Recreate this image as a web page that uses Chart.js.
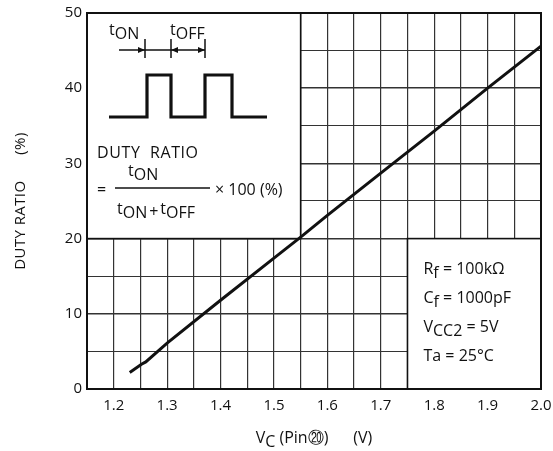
<!DOCTYPE html>
<html>
<head>
<meta charset="utf-8">
<script src="https://cdn.jsdelivr.net/npm/chart.js@4"></script>
<style>
html,body{margin:0;padding:0;background:#fff;}
#wrap{width:553px;height:451px;position:relative;}
</style>
</head>
<body>
<div id="wrap"><canvas id="chart" width="553" height="451"></canvas></div>
<script>

// ================= DATA =================

const vc = [1.23, 1.252, 1.26, 1.3, 1.4, 1.5, 1.55, 1.6, 1.7, 1.8, 1.9, 2.0];
const duty = [2.2, 3.3, 3.6, 6.1, 11.8, 17.4, 20.2, 23.1, 28.7, 34.3, 40.0, 45.6];

const xTickLabels = ["1.2","1.3","1.4","1.5","1.6","1.7","1.8","1.9","2.0"];
const yTickLabels = ["0","10","20","30","40","50"];

const conditions = [
  ["R","f"," = 100k\u03A9"],
  ["C","f"," = 1000pF"],
  ["V","CC2"," = 5V"],
  ["Ta","",  " = 25\u00B0C"]
];

const FONT = "'Open Sans', 'DejaVu Sans', sans-serif";
const INK = "#111";

// ================= HELPERS =================

function subText(ctx, x, y, parts, size){
  // parts: [[text, dy], ...] drawn left to right
  ctx.font = size + "px " + FONT;
  parts.forEach(p=>{
    ctx.fillText(p[0], x, y + p[1]);
    x += ctx.measureText(p[0]).width;
  });
  return x;
}

function textWidth(ctx, parts, size){
  ctx.font = size + "px " + FONT;
  return parts.reduce((w,p)=>w+ctx.measureText(p[0]).width,0);
}

function arrowHead(ctx, x, y, dir){
  ctx.beginPath();
  ctx.moveTo(x, y);
  ctx.lineTo(x - dir*7, y - 3);
  ctx.lineTo(x - dir*7, y + 3);
  ctx.closePath();
  ctx.fill();
}

// ================= INSET BOXES =================

const insetPlugin = {
  id: "insets",
  beforeDatasetsDraw(chart){
    const ctx = chart.ctx;
    const xs = chart.scales.x, ys = chart.scales.y;

    const boxes = [
      [xs.getPixelForValue(1.15), ys.getPixelForValue(50), xs.getPixelForValue(1.55), ys.getPixelForValue(20)],
      [xs.getPixelForValue(1.75), ys.getPixelForValue(20), xs.getPixelForValue(2.0), ys.getPixelForValue(0)]
    ];

    ctx.save();
    boxes.forEach(b=>{
      ctx.fillStyle = "#fff";
      ctx.fillRect(b[0], b[1], b[2]-b[0], b[3]-b[1]);
      ctx.strokeStyle = INK;
      ctx.lineWidth = 1.6;
      ctx.strokeRect(b[0], b[1], b[2]-b[0], b[3]-b[1]);
    });

    // frame
    const a = chart.chartArea;
    ctx.lineWidth = 2;
    ctx.strokeRect(a.left, a.top, a.right-a.left, a.bottom-a.top);
    ctx.restore();
  },
  afterDraw(chart){
    const ctx = chart.ctx;
    const xs = chart.scales.x, ys = chart.scales.y;
    const L = xs.getPixelForValue(1.15), T = ys.getPixelForValue(50);

    ctx.save();
    ctx.fillStyle = INK;
    ctx.strokeStyle = INK;
    ctx.textBaseline = "alphabetic";
    ctx.textAlign = "left";

    // ---- pulse diagram ----
    const lo = T + 104, hi = T + 62;
    ctx.lineWidth = 3.2;
    ctx.lineJoin = "miter";
    ctx.beginPath();
    ctx.moveTo(L+22, lo);
    ctx.lineTo(L+60, lo); ctx.lineTo(L+60, hi);
    ctx.lineTo(L+84, hi); ctx.lineTo(L+84, lo);
    ctx.lineTo(L+118, lo); ctx.lineTo(L+118, hi);
    ctx.lineTo(L+145, hi); ctx.lineTo(L+145, lo);
    ctx.lineTo(L+180, lo);
    ctx.stroke();

    // timing arrows
    const ay = T + 37;
    ctx.lineWidth = 1.5;
    ctx.beginPath();
    ctx.moveTo(L+32, ay); ctx.lineTo(L+118, ay);
    [58, 84, 118].forEach(dx=>{
      ctx.moveTo(L+dx, ay-11); ctx.lineTo(L+dx, ay+8);
    });
    ctx.stroke();
    arrowHead(ctx, L+58, ay, 1);
    arrowHead(ctx, L+84, ay, -1);
    arrowHead(ctx, L+118, ay, 1);

    subText(ctx, L+22, T+22, [["t",0],["ON",4]], 16);
    subText(ctx, L+83, T+22, [["t",0],["OFF",4]], 16);

    // ---- formula ----
    ctx.font = "16px " + FONT;
    ctx.letterSpacing = "0.6px";
    ctx.fillText("DUTY  RATIO", L+10, T+145);
    ctx.letterSpacing = "0px";
    ctx.fillText("=", L+10, T+182);
    ctx.lineWidth = 1.3;
    ctx.beginPath();
    ctx.moveTo(L+28, T+175); ctx.lineTo(L+123, T+175);
    ctx.stroke();
    subText(ctx, L+41, T+163, [["t",0],["ON",4]], 16);
    let nx = subText(ctx, L+30, T+201, [["t",0],["ON",4]], 16);
    nx = subText(ctx, nx+2, T+201, [["+",3]], 16);
    subText(ctx, nx+2, T+201, [["t",0],["OFF",4]], 16);
    ctx.font = "16px " + FONT;
    ctx.fillText("\u00D7 100 (%)", L+128, T+182);

    // ---- conditions ----
    const cx = xs.getPixelForValue(1.75) + 16;
    const cy0 = ys.getPixelForValue(20) + 35;
    conditions.forEach((c,i)=>{
      const y = cy0 + i*29;
      subText(ctx, cx, y, [[c[0],0],[c[1],4],[c[2],0]], 16);
    });

    // ---- x axis title ----
    const parts = [["V",0],["C",4],[" (Pin",0],["\u2473",0],[")      (V)",0]];
    const w = textWidth(ctx, parts, 16);
    const mid = (chart.chartArea.left + chart.chartArea.right)/2;
    subText(ctx, mid - w/2, 443, parts, 16);

    // ---- y axis title ----
    ctx.translate(25, (chart.chartArea.top + chart.chartArea.bottom)/2);
    ctx.rotate(-Math.PI/2);
    ctx.font = "15px " + FONT;
    ctx.letterSpacing = "0.4px";
    ctx.textAlign = "center";
    ctx.fillText("DUTY RATIO      (%)", 0, 0);

    ctx.restore();
  }
};

// ================= CHART =================

const canvas = document.getElementById("chart");

new Chart(canvas,{
  type:"line",
  data:{
    datasets:[{
      data: vc.map((v,i)=>({x:v, y:duty[i]})),
      borderColor: INK,
      borderWidth: 3,
      pointRadius: 0,
      tension: 0,
      fill: false
    }]
  },
  options:{
    responsive:false,
    animation:false,
    devicePixelRatio:1,
    layout:{ padding:{ top:13, right:12, left:0, bottom:0 } },
    plugins:{ legend:{display:false}, tooltip:{enabled:false} },
    scales:{
      x:{
        type:"linear",
        min:1.15, max:2.0,
        afterFit(s){ s.height = 62; s.paddingRight = 0; s.paddingLeft = 0; },
        afterBuildTicks(s){
          const t = [];
          for(let i=0;i<=17;i++) t.push({value: Math.round((1.15 + i*0.05)*100)/100});
          s.ticks = t;
        },
        border:{display:false},
        grid:{ color:"#333", lineWidth:1.2, drawTicks:false },
        ticks:{
          padding:8,
          color:INK,
          font:{family:FONT, size:15},
          autoSkip:false,
          maxRotation:0,
          callback(v){
            const k = Math.round(v*100);
            if(k % 10 !== 0) return "";
            const lab = (k/100).toFixed(1);
            return xTickLabels.includes(lab) ? lab : "";
          }
        }
      },
      y:{
        min:0, max:50,
        afterFit(s){ s.width = 87; s.paddingTop = 0; s.paddingBottom = 0; },
        border:{display:false},
        grid:{
          color:"#333",
          drawTicks:false,
          lineWidth(c){ return c.tick && c.tick.value % 10 === 0 ? 1.6 : 1.1; }
        },
        ticks:{
          stepSize:5,
          padding:5,
          color:INK,
          font:{family:FONT, size:15},
          callback(v){
            const s = String(v);
            return yTickLabels.includes(s) ? s : "";
          }
        }
      }
    }
  },
  plugins:[insetPlugin]
});

</script>
</body>
</html>
